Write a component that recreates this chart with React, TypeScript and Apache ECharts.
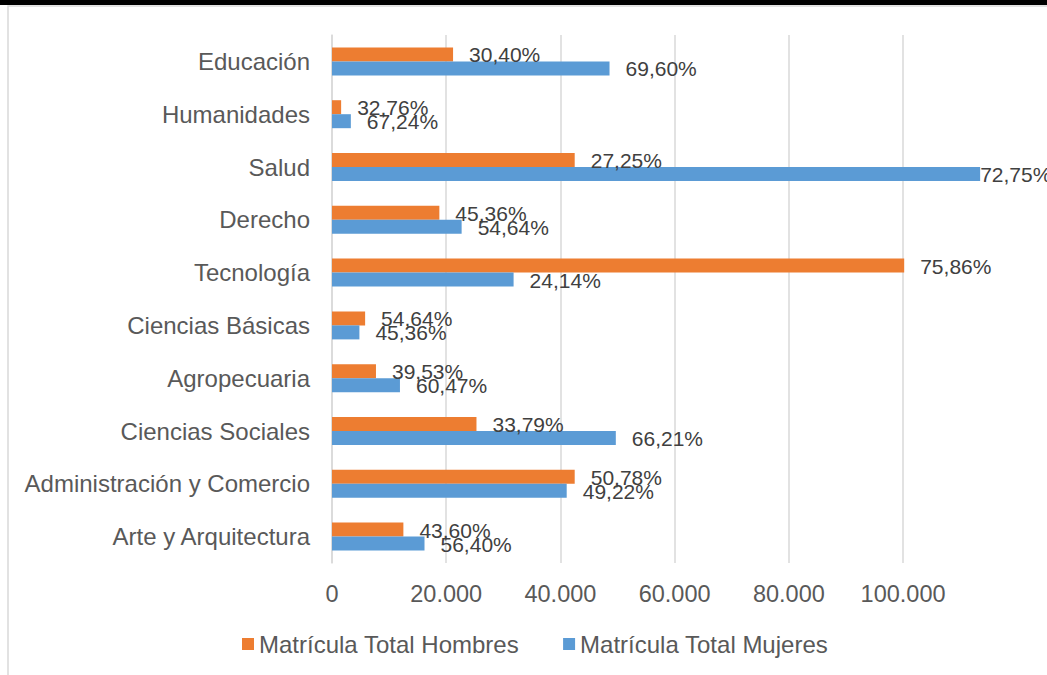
import React, { useEffect, useRef } from "react";
import * as echarts from "echarts";

const categories = [
  "Arte y Arquitectura",
  "Administración y Comercio",
  "Ciencias Sociales",
  "Agropecuaria",
  "Ciencias Básicas",
  "Tecnología",
  "Derecho",
  "Salud",
  "Humanidades",
  "Educación",
];

const hombres = [12500, 42500, 25300, 7700, 5800, 100200, 18800, 42500, 1600, 21200];
const mujeres = [16200, 41100, 49700, 11900, 4800, 31800, 22700, 113500, 3300, 48600];

const hombresPct = ["43,60%", "50,78%", "33,79%", "39,53%", "54,64%", "75,86%", "45,36%", "27,25%", "32,76%", "30,40%"];
const mujeresPct = ["56,40%", "49,22%", "66,21%", "60,47%", "45,36%", "24,14%", "54,64%", "72,75%", "67,24%", "69,60%"];

const seriesNames = ["Matrícula Total Hombres", "Matrícula Total Mujeres"];

const FONT = "Arial, 'Liberation Sans', sans-serif";
const AXIS_MAX = 114000;

const fmtThousands = (v: number) => String(v).replace(/\B(?=(\d{3})+(?!\d))/g, ".");

function buildData(values: number[]) {
  return values.map((v) => ({
    value: v,
    label: { distance: v > 105000 ? 0 : 16 },
  }));
}

export default function App() {
  const ref = useRef<HTMLDivElement>(null);

  useEffect(() => {
    if (!ref.current) return;
    const chart = echarts.init(ref.current, undefined, { renderer: "svg" });
    const labelStyle = {
      show: true,
      position: "right" as const,
      fontFamily: FONT,
      fontSize: 21,
      color: "#404040",
      offset: [0, 0.5],
    };
    chart.setOption({
      animation: false,
      backgroundColor: "#ffffff",
      textStyle: { fontFamily: FONT },
      graphic: [
        {
          type: "rect",
          shape: { x: 0, y: 0, width: 1047, height: 5 },
          style: { fill: "#000000" },
          silent: true,
        },
        {
          type: "rect",
          shape: { x: 8, y: 6, width: 1100, height: 700 },
          style: { fill: "none", stroke: "#d9d9d9", lineWidth: 1.5 },
          silent: true,
        },
      ],
      grid: { left: 332, top: 35, right: 1047 - 332 - 651, bottom: 112, containLabel: false },
      legend: {
        data: seriesNames,
        left: 237,
        top: 627,
        itemWidth: 12,
        itemHeight: 12,
        itemGap: 44,
        icon: "rect",
        textStyle: { fontFamily: FONT, fontSize: 24, color: "#595959" },
      },
      xAxis: {
        type: "value",
        min: 0,
        max: AXIS_MAX,
        interval: 20000,
        axisLine: { show: false },
        axisTick: { show: false },
        axisLabel: {
          margin: 19,
          fontFamily: FONT,
          fontSize: 23.5,
          color: "#595959",
          showMaxLabel: false,
          formatter: (v: number) => (v % 20000 === 0 ? fmtThousands(v) : ""),
        },
        splitLine: { show: true, showMaxLine: false, lineStyle: { color: "#d9d9d9", width: 1.5 } },
      },
      yAxis: {
        type: "category",
        data: categories,
        axisLine: { show: true, lineStyle: { color: "#d9d9d9", width: 1.5 } },
        axisTick: { show: false },
        axisLabel: { margin: 22, fontFamily: FONT, fontSize: 24, color: "#595959" },
      },
      series: [
        {
          name: seriesNames[0],
          type: "bar",
          data: buildData(hombres),
          itemStyle: { color: "#ED7D31" },
          barGap: "0%",
          barCategoryGap: "47%",
          label: { ...labelStyle, formatter: (p: any) => hombresPct[p.dataIndex] },
        },
        {
          name: seriesNames[1],
          type: "bar",
          data: buildData(mujeres),
          itemStyle: { color: "#5B9BD5" },
          barGap: "0%",
          barCategoryGap: "47%",
          label: { ...labelStyle, formatter: (p: any) => mujeresPct[p.dataIndex] },
        },
      ],
    });
    return () => chart.dispose();
  }, []);

  return (
    <div
      ref={ref}
      style={{ position: "absolute", left: 0, top: 0, width: 1047, height: 675 }}
    />
  );
}
